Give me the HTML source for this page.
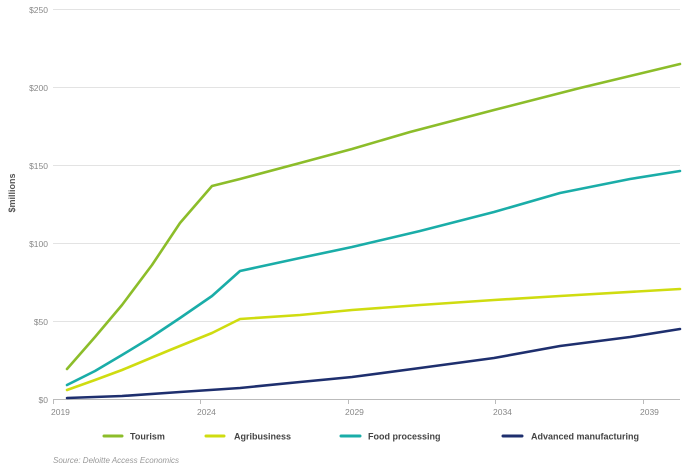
<!DOCTYPE html>
<html><head><style>body{margin:0;background:#fff}</style></head><body>
<svg width="688" height="468" xmlns="http://www.w3.org/2000/svg" font-family="Liberation Sans, sans-serif">
<g stroke="#e3e3e3" stroke-width="1">
<line x1="53" y1="9.5" x2="680" y2="9.5"/><line x1="53" y1="87.5" x2="680" y2="87.5"/>
<line x1="53" y1="165.5" x2="680" y2="165.5"/><line x1="53" y1="243.5" x2="680" y2="243.5"/>
<line x1="53" y1="321.5" x2="680" y2="321.5"/>
</g>
<g stroke="#bbb" stroke-width="1">
<line x1="53" y1="399.5" x2="680" y2="399.5"/>
<line x1="53.5" y1="399" x2="53.5" y2="404"/><line x1="200.5" y1="399" x2="200.5" y2="404"/>
<line x1="348.5" y1="399" x2="348.5" y2="404"/><line x1="495.5" y1="399" x2="495.5" y2="404"/>
<line x1="643.5" y1="399" x2="643.5" y2="404"/>
</g>
<g font-size="8.5" fill="#888" text-anchor="end">
<text x="48" y="13">$250</text><text x="48" y="91">$200</text><text x="48" y="169">$150</text>
<text x="48" y="247">$100</text><text x="48" y="325">$50</text><text x="48" y="403">$0</text>
</g>
<g font-size="8.5" fill="#888">
<text x="51" y="415">2019</text><text x="197" y="415">2024</text><text x="345" y="415">2029</text>
<text x="493" y="415">2034</text><text x="640" y="415">2039</text>
</g>
<text transform="translate(15,193) rotate(-90)" font-size="9" font-weight="bold" fill="#555" text-anchor="middle">$millions</text>
<g fill="none" stroke-width="2.6" stroke-linejoin="round" stroke-linecap="round">
<polyline stroke="#8cbd2a" points="67,369 95,337 122,305 152,265 180,223 212,186 240,179 300,163 352,149 410,132 494,110 580,88 680,64"/>
<polyline stroke="#cfdc10" points="67,390 95,380 122,370 170,350 212,333 240,319 300,315 352,310 420,305 494,300 560,296 680,289"/>
<polyline stroke="#1aada8" points="67,385 95,371 122,355 150,338 180,318 212,296 240,271 300,258 352,247 420,231 494,212 560,193 630,179 680,171"/>
<polyline stroke="#1e2f6e" points="67,398 122,396 180,392 240,388 300,382 352,377 420,368 494,358 560,346 630,337 680,329"/>
</g>
<g stroke-width="3" stroke-linecap="round">
<line x1="104" y1="436" x2="122" y2="436" stroke="#8cbd2a"/>
<line x1="206" y1="436" x2="224" y2="436" stroke="#cfdc10"/>
<line x1="341" y1="436" x2="360" y2="436" stroke="#1aada8"/>
<line x1="503" y1="436" x2="522" y2="436" stroke="#1e2f6e"/>
</g>
<g font-size="9" font-weight="bold" fill="#444">
<text x="130" y="439.5">Tourism</text><text x="234" y="439.5">Agribusiness</text>
<text x="368" y="439.5">Food processing</text><text x="531" y="439.5">Advanced manufacturing</text>
</g>
<text x="53" y="463" font-size="8" font-style="italic" fill="#999">Source: Deloitte Access Economics</text>
</svg>
</body></html>
